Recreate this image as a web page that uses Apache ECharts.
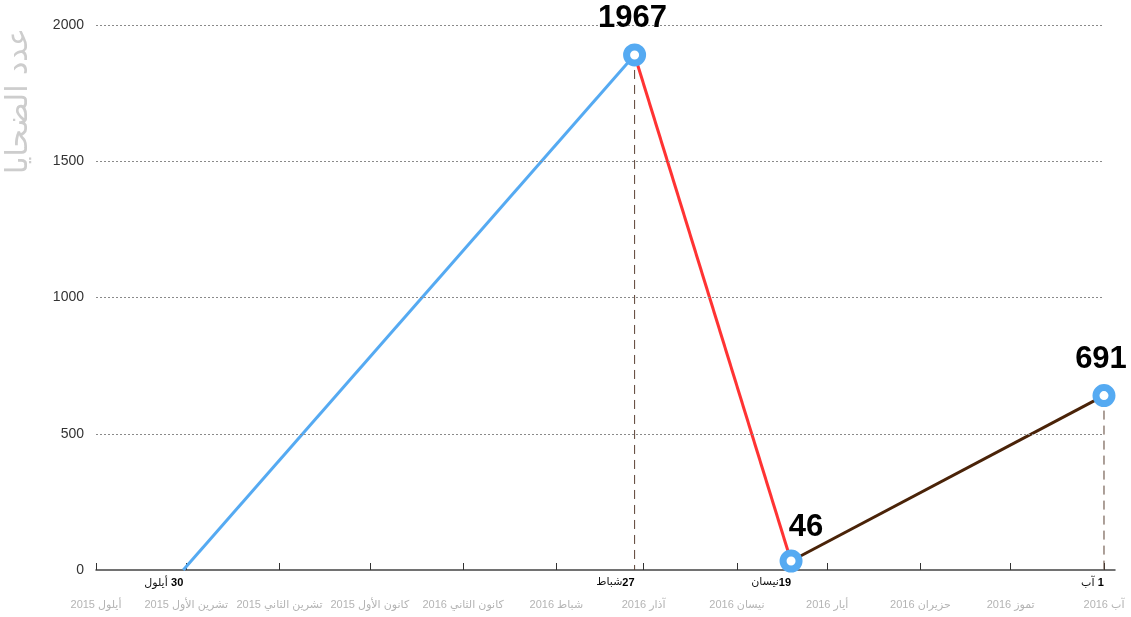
<!DOCTYPE html>
<html><head><meta charset="utf-8">
<script src="https://cdn.jsdelivr.net/npm/echarts@6/dist/echarts.min.js"></script>
<style>html,body{margin:0;padding:0;background:#fff}#c{width:1131px;height:617px}</style>
</head><body><div id="c"></div>
<script>
// ---- data ----
const pointDates = ['2015-09-30', '2016-02-27', '2016-04-19', '2016-08-01'];
const pointValues = [0, 1890, 33, 640];            // plotted heights
const pointLabels = ['', '1967', '46', '691'];       // printed numbers
const pointDayNum = ['30', '27', '19', '1'];
const pointMonth = ['أيلول', 'شباط', 'نيسان', 'آب'];
const pointSep = [' ', '', '', ' '];
const segmentColors = ['#55aaf2', '#ff3333', '#4a2308'];
const monthDates = ['2015-09-01','2015-10-01','2015-11-01','2015-12-01','2016-01-01','2016-02-01','2016-03-01','2016-04-01','2016-05-01','2016-06-01','2016-07-01','2016-08-01'];
const monthLabels = ['أيلول 2015','تشرين الأول 2015','تشرين الثاني 2015','كانون الأول 2015','كانون الثاني 2016','شباط 2016','آذار 2016','نيسان 2016','أيار 2016','حزيران 2016','تموز 2016','آب 2016'];
const yTicks = [0, 500, 1000, 1500, 2000];
const yTitle = 'عدد الضحايا';

// day numbers counted in days (UTC)
function ts(s){const p=s.split('-').map(Number);return Math.round(Date.UTC(p[0],p[1]-1,p[2])/86400000);}
const xMin = ts(monthDates[0]);
const xLast = ts(monthDates[monthDates.length-1]);
const xMax = xLast + 3.66;
const pts = pointDates.map(ts);
const monthTs = monthDates.map(ts);

const series = [];
series.push({type:'line', data:[], silent:true,
  markLine:{silent:true, symbol:'none', label:{show:false},
    lineStyle:{color:'#8a8a8a', type:[2,2], width:1},
    data: yTicks.filter(v=>v>0).map(v=>[{coord:[xMin,v]},{coord:[xLast,v]}])}});
for (let i=1;i<pts.length;i++){
  series.push({type:'line', data:[[pts[i],pointValues[i]],[pts[i],0]], symbol:'none', silent:true,
    lineStyle:{color:'#5b4033', width:1, type:[9,6]}, z:1});
}
for (let i=0;i<pts.length-1;i++){
  series.push({type:'line', data:[[pts[i],pointValues[i]],[pts[i+1],pointValues[i+1]]], symbol:'none',
    lineStyle:{color:segmentColors[i], width:3}, z:3});
}
const labelOffsets = [[0,0],[-2,-37],[15,-34],[-3,-36]];
series.push({type:'scatter', z:5, symbol:'circle', symbolSize:16,
  itemStyle:{color:'#fff', borderColor:'#55aaf2', borderWidth:7, opacity:1},
  emphasis:{disabled:true},
  data: pts.map((t,i)=>({value:[t,pointValues[i]],
     label:{show:true, position:'inside', offset:labelOffsets[i], formatter:pointLabels[i],
       color:'#000', fontSize:31, fontWeight:'bold', fontFamily:'Liberation Sans, Arial'}})).slice(1)
});

const labelMap = {};
pts.forEach((t,i)=>{labelMap[t]='{m|'+pointMonth[i]+'}'+pointSep[i]+'{n|'+pointDayNum[i]+'}';});
const monthMap = {};
monthTs.forEach((t,i)=>{monthMap[t]=monthLabels[i];});

const chart = echarts.init(document.getElementById('c'), null, {renderer:'canvas'});
chart.setOption({
  animation:false,
  grid:{left:96, right:16, top:25, bottom:47, containLabel:false},
  xAxis:[{type:'value', min:xMin, max:xMax, position:'bottom',
      axisLine:{show:true, lineStyle:{color:'#444', width:1.5}},
      axisTick:{show:true, inside:true, length:7, customValues:monthTs, lineStyle:{color:'#333', width:1}},
      splitLine:{show:false},
      axisLabel:{show:true, customValues:pts, align:'right', margin:7, hideOverlap:false, showMinLabel:true, showMaxLabel:true,
        formatter:v=>labelMap[v]||'',
        rich:{m:{fontSize:11, color:'#111', fontFamily:'DejaVu Sans'}, n:{fontSize:11, color:'#000', fontWeight:'bold', fontFamily:'Liberation Sans'}}}},
    {type:'value', min:xMin, max:xMax, position:'bottom', gridIndex:0,
      axisLine:{show:false}, axisTick:{show:false}, splitLine:{show:false},
      axisLabel:{show:true, customValues:monthTs, margin:29, color:'#b4b4b4', fontSize:11, hideOverlap:false, showMinLabel:true, showMaxLabel:true,
        fontFamily:'Liberation Sans, DejaVu Sans', formatter:v=>monthMap[v]||''}}],
  yAxis:{type:'value', min:0, max:2000, interval:500,
    axisLine:{show:false}, axisTick:{show:false}, splitLine:{show:false},
    axisLabel:{color:'#333', fontSize:14, margin:12, fontFamily:'Liberation Sans, Arial', formatter:v=>String(v)}},
  graphic:[{type:'text', x:19, y:101, rotation:Math.PI/2,
    style:{text:yTitle, fill:'#cdcdcd', fontSize:30, fontFamily:'DejaVu Sans', fontWeight:'normal', align:'center', verticalAlign:'middle'}}],
  series: series
});
</script></body></html>
